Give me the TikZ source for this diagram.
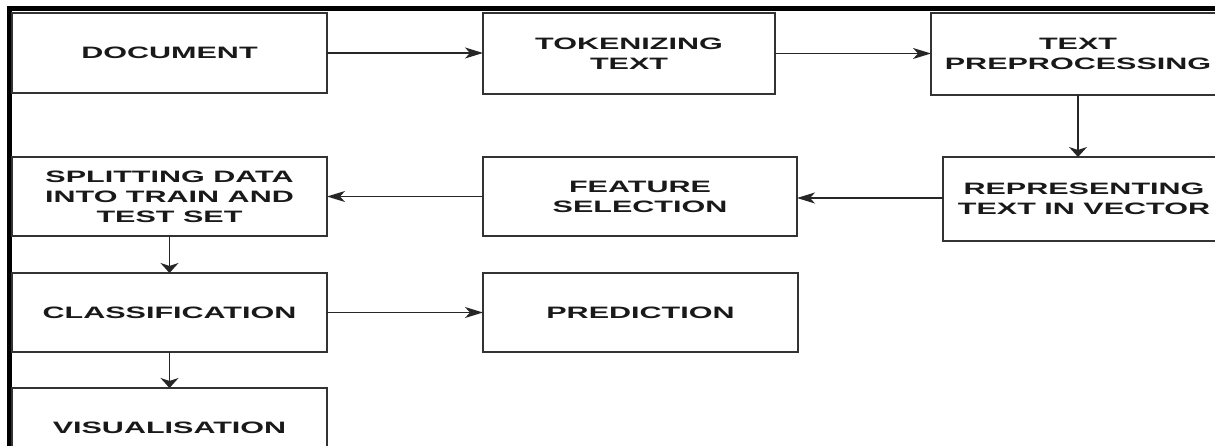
\documentclass[tikz,border=0pt]{standalone}
\usepackage{fontspec}
\newfontfamily\boxfont{Liberation Sans}[FakeStretch=1.85]
\usetikzlibrary{arrows.meta,calc}
\begin{document}
\begin{tikzpicture}[x=1pt,y=-1pt,
  box/.style={draw=black!80, line width=2pt, inner sep=0pt, outer sep=0pt, align=center,
    font=\boxfont\bfseries\fontsize{16.5}{20}\selectfont, text=black!90},
  arr/.style={draw=black!85, line width=1.6pt},
  harr/.style={arr, -{Stealth[length=18pt 0,width=11pt 0,inset=5pt 0]}},
  varr/.style={arr, -{Stealth[length=10pt 0,width=18pt 0,inset=3pt 0]}},
  frame/.style={draw=black, line width=4.5pt}]
\useasboundingbox (0,0) rectangle (1215,446);
\clip (0,0) rectangle (1215,446);
\draw[frame] (9.5,446) -- (9.5,6.5);
\draw[frame] (7.25,8.7) -- (1215,8.7);
\node[box, minimum width=315pt, minimum height=80pt] (doc) at (169.5,53) {DOCUMENT};
\node[box, minimum width=292pt, minimum height=81pt] (tok) at (629,53.5) {TOKENIZING\\TEXT};
\node[box, minimum width=294pt, minimum height=82pt] (pre) at (1078,54) {TEXT\\PREPROCESSING};
\node[box, minimum width=282pt, minimum height=84pt] (rep) at (1084,199) {REPRESENTING\\TEXT IN VECTOR};
\node[box, minimum width=314pt, minimum height=79pt] (feat) at (640,196.5) {FEATURE\\SELECTION};
\node[box, minimum width=315pt, minimum height=79pt] (split) at (169.5,196.5) {SPLITTING DATA\\INTO TRAIN AND\\TEST SET};
\node[box, minimum width=315pt, minimum height=79pt] (class) at (169.5,312.5) {CLASSIFICATION};
\node[box, minimum width=315pt, minimum height=79pt] (pred) at (640.5,312.5) {PREDICTION};
\node[box, minimum width=315pt, minimum height=80pt] (vis) at (169.5,428) {VISUALISATION};
\draw[harr] (doc.east) -- (doc.east -| tok.west);
\draw[harr] (tok.east) -- (tok.east -| pre.west);
\draw[varr] (pre.south) -- (pre.south |- rep.north);
\draw[harr] ($(rep.west)+(0,-1)$) -- ($(rep.west -| feat.east)+(0,-1)$);
\draw[harr] (feat.west) -- (feat.west -| split.east);
\draw[varr] (split.south) -- (split.south |- class.north);
\draw[harr] (class.east) -- (class.east -| pred.west);
\draw[varr] (class.south) -- (class.south |- vis.north);
\end{tikzpicture}
\end{document}
